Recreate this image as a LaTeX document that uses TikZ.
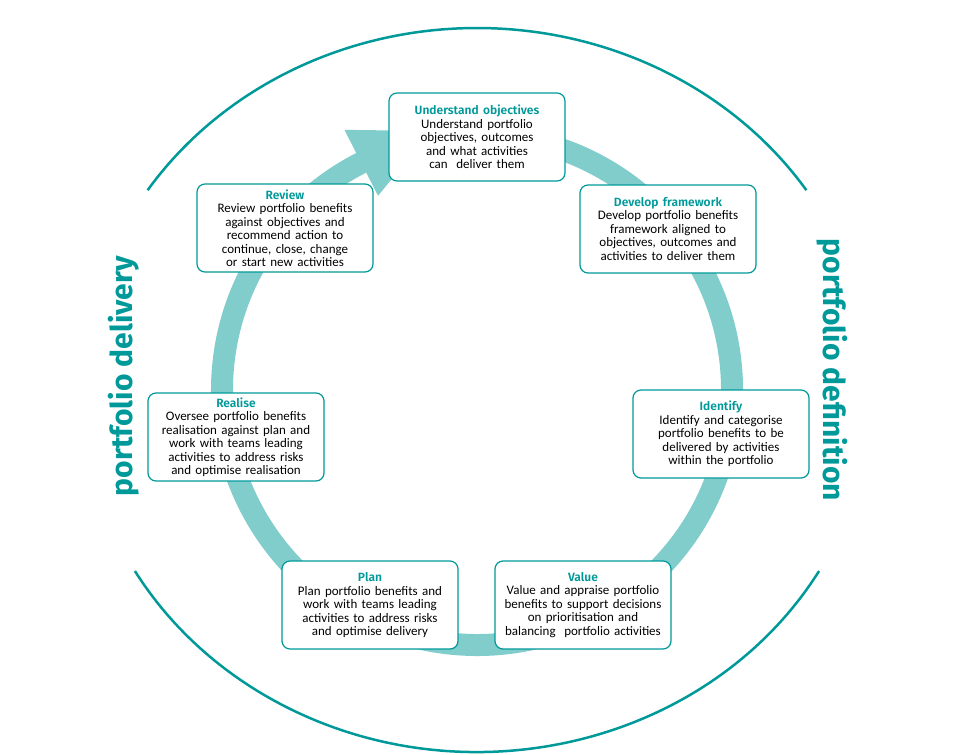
\documentclass[tikz,border=0pt]{standalone}
\usepackage{fontspec}
\setmainfont{Carlito}
\newfontfamily\hdfont{Fira Sans SemiBold}
\newfontfamily\sdfont{Fira Sans}
\usetikzlibrary{arrows.meta}
\definecolor{teal1}{HTML}{00999A}
\definecolor{ring}{HTML}{80CDCB}
\begin{document}
\begin{tikzpicture}[x=1pt,y=-1pt,
 box/.style={draw=teal1,line width=1.2pt,rounded corners=8pt,fill=white,minimum width=176pt,minimum height=88pt,align=center,text width=158pt,font=\fontsize{13}{13.5}\selectfont,execute at begin node={\hyphenpenalty=10000\exhyphenpenalty=10000},inner sep=2pt},
 side/.style={text=teal1,font=\sdfont\bfseries\fontsize{30}{32}\selectfont}]
\newcommand\hd[1]{{\color{teal1}\hdfont\fontsize{12}{13}\selectfont #1}}
\useasboundingbox (0,0) rectangle (964,755);
\coordinate (c) at (477,390);
% outer ellipse with gaps
\draw[teal1,line width=2.5pt] (c) ++(-146.5:395 and 362) arc[start angle=-146.5,end angle=-33.5,x radius=395,y radius=362];
\draw[teal1,line width=2.5pt] (c) ++(30:395 and 362) arc[start angle=30,end angle=150,x radius=395,y radius=362];
% inner ring with arrow
\draw[ring,line width=22pt] (c) ++(-85:255) arc[start angle=-85,end angle=244,radius=255];
\path (c) ++(-117:292) coordinate (h1) (c) ++(-117:218) coordinate (h2) (c) ++(-100:263) coordinate (tip);
\fill[ring] (h1) -- (tip) -- (h2) -- cycle;
\node[box] (uo) at (477,137) {\hd{Understand objectives}\\Understand portfolio objectives, outcomes and what activities can\ \ deliver them};
\node[box] (df) at (668,229) {\hd{Develop framework}\\Develop portfolio benefits framework aligned to objectives, outcomes and activities to deliver them};
\node[box] (id) at (721,434) {\hd{Identify}\\Identify and categorise portfolio benefits to be delivered by activities within the portfolio};
\node[box] (va) at (583,605) {\hd{Value}\\Value and appraise portfolio benefits to support decisions on prioritisation and balancing\ \ portfolio activities};
\node[box] (pl) at (370,605) {\hd{Plan}\\Plan portfolio benefits and work with teams leading activities to address risks and optimise delivery};
\node[box] (re) at (236,437) {\hd{Realise}\\Oversee portfolio benefits realisation against plan and work with teams leading activities to address risks and optimise realisation};
\node[box] (rv) at (285,228) {\hd{Review}\\Review portfolio benefits against objectives and recommend action to continue, close, change or start new activities};
\node[side,rotate=90] (pd) at (124,376) {portfolio delivery};
\node[side,rotate=-90] (pf) at (832,370) {portfolio definition};
\end{tikzpicture}
\end{document}
